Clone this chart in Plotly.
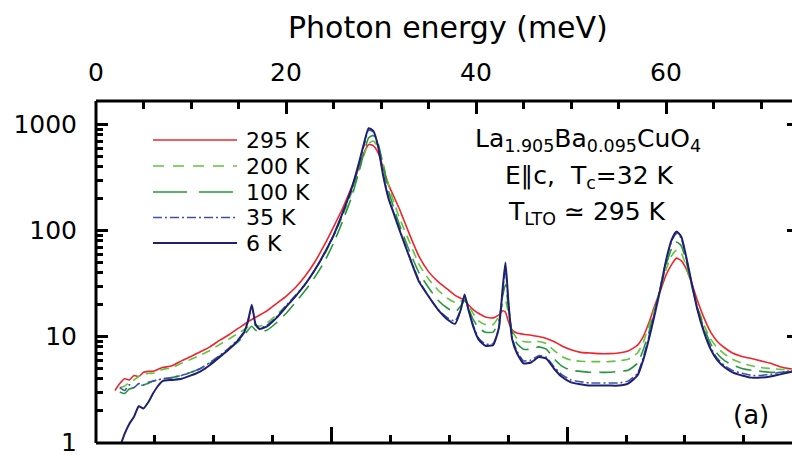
import plotly.graph_objects as go

# ---------------- data ----------------
energy_meV = [2.0, 2.5, 3.0, 3.5, 4.0, 4.5, 5.0, 5.5, 6.0, 6.5, 7.0, 8.0, 9.0, 10.0, 11.0, 12.0, 13.0, 14.0, 15.0, 15.6,
              16.0, 16.4, 16.8, 17.2, 18.0, 19.0, 20.0, 21.0, 22.0, 23.0, 24.0, 25.0, 26.0, 27.0, 27.6, 28.2, 28.7, 29.2, 29.7, 30.2,
              30.8, 31.4, 32.0, 33.0, 34.0, 35.0, 36.0, 37.0, 37.8, 38.4, 38.8, 39.2, 39.7, 40.3, 41.0, 41.8, 42.4, 42.8, 43.1, 43.4,
              43.8, 44.3, 45.0, 45.8, 46.6, 47.4, 48.2, 49.0, 50.0, 51.0, 52.0, 53.0, 54.0, 55.0, 56.0, 57.0, 57.6, 58.2, 58.8, 59.4,
              60.0, 60.6, 61.1, 61.6, 62.1, 62.7, 63.3, 64.0, 64.7, 65.4, 66.2, 67.0, 68.0, 69.0, 70.0, 71.0, 72.0, 73.4]

sigma_295K = [3.1, 3.6, 4.0, 3.9, 4.3, 4.2, 4.6, 4.7, 4.7, 4.9, 5.1, 5.3, 5.9, 6.5, 7.2, 8.0, 9.2, 10.4, 12.0, 13.0,
              13.8, 14.5, 15.2, 15.9, 17.5, 20.5, 24, 29, 37, 50, 72, 108, 165, 270, 380, 540, 650, 630, 540, 400,
              270, 205, 155, 92, 57, 41, 33, 28, 24.5, 23, 22, 20, 18, 16.5, 15.3, 15.0, 16, 17.5, 17, 14,
              11.5, 10.8, 10.5, 10.3, 10.0, 9.6, 9.0, 8.2, 7.5, 7.1, 7.0, 6.9, 6.9, 7.0, 7.3, 8.3, 10, 13.5, 19.5, 27,
              38, 48, 55, 52, 44, 32, 22, 15, 11, 9.0, 7.8, 7.0, 6.5, 6.2, 5.9, 5.6, 5.2, 4.9]

sigma_200K = [None, 3.3, 3.4, 3.7, 3.9, 4.2, 4.4, 4.5, 4.5, 4.7, 4.9, 5.1, 5.6, 6.1, 6.7, 7.4, 8.4, 9.5, 10.8, 11.6,
              12.3, 13.0, 12.8, 12.5, 13.5, 16, 19.5, 24, 31, 42, 58, 88, 140, 240, 345, 515, 665, 700, 610, 440,
              265, 180, 128, 78, 48, 35, 27.5, 23, 21, 21.5, 22.5, 20, 16.5, 14, 13, 13, 15.5, 20, 22, 16.5,
              11.5, 9.6, 9.0, 8.9, 9.0, 8.6, 7.4, 6.5, 6.0, 5.85, 5.8, 5.8, 5.8, 5.9, 6.1, 7.0, 8.8, 12.5, 18.5, 28,
              43, 58, 65, 61, 47, 30, 19.5, 12.8, 9.5, 7.8, 6.8, 6.1, 5.6, 5.3, 5.1, 5.0, 4.9, 4.9]

sigma_100K = [None, 3.0, 2.9, 3.2, 3.3, 3.4, 3.5, 3.6, 3.8, 3.9, 4.0, 4.1, 4.3, 4.6, 5.0, 5.6, 6.5, 7.6, 9.0, 10.3,
              11.5, 12.5, 11.5, 11.0, 11.5, 13.5, 16.5, 21, 27, 36, 50, 76, 125, 220, 340, 540, 750, 790, 660, 420,
              235, 158, 110, 64, 40, 29, 22, 18.5, 17, 19.5, 22, 18.5, 14.5, 12, 11, 11, 14, 24, 31, 19,
              11, 8.6, 7.6, 7.6, 8.0, 7.6, 6.2, 5.3, 4.8, 4.7, 4.6, 4.6, 4.6, 4.7, 4.8, 5.6, 7.5, 11, 17.5, 28,
              47, 68, 78, 72, 52, 31, 19, 12, 8.6, 6.9, 5.9, 5.4, 5.0, 4.8, 4.7, 4.6, 4.6, 4.7]

sigma_35K = [None, 3.3, 3.1, 3.5, 3.3, 3.6, 3.5, 3.7, 3.8, 3.9, 4.0, 4.1, 4.3, 4.6, 5.0, 5.7, 6.6, 7.8, 9.5, 11.2,
             14, 19, 13, 12, 12.8, 15.3, 19.5, 24.5, 31, 42, 60, 90, 148, 255, 390, 630, 890, 850, 620, 350,
             205, 142, 100, 57, 34, 24, 18, 15, 14, 18, 24, 18, 12.8, 9.6, 8.5, 8.6, 12, 26, 45, 21,
             9.8, 7.3, 5.9, 6.0, 6.6, 6.4, 5.2, 4.4, 3.9, 3.75, 3.65, 3.65, 3.65, 3.65, 3.8, 4.5, 6.3, 10, 17, 29,
             52, 80, 94, 85, 57, 32, 18.5, 11.3, 7.9, 6.2, 5.3, 4.8, 4.5, 4.3, 4.3, 4.4, 4.6, 4.8]

sigma_6K = [None, 0.9, 1.2, 1.5, 1.75, 2.2, 2.1, 2.4, 2.9, 3.4, 3.8, 3.9, 4.0, 4.3, 4.7, 5.4, 6.4, 7.6, 9.3, 11.0,
            14, 20, 13, 11.8, 12.5, 15, 19, 24, 31, 42, 60, 90, 150, 265, 410, 660, 925, 870, 620, 340,
            200, 140, 98, 56, 33, 24, 18, 14.5, 13.2, 18, 25, 18, 12.5, 9.3, 8.2, 8.3, 12, 28, 50, 22,
            9.5, 7.0, 5.6, 5.7, 6.4, 6.2, 5.0, 4.2, 3.7, 3.55, 3.45, 3.45, 3.45, 3.45, 3.6, 4.3, 6.0, 9.5, 16, 28,
            52, 82, 98, 88, 58, 32, 18, 11, 7.6, 6.0, 5.1, 4.6, 4.3, 4.1, 4.1, 4.2, 4.4, 4.7]

series_labels = ["295 K", "200 K", "100 K", "35 K", "6 K"]
series_values = [sigma_295K, sigma_200K, sigma_100K, sigma_35K, sigma_6K]

top_tick_vals = [0, 20, 40, 60]
top_minor_vals = [5, 10, 15, 25, 30, 35, 45, 50, 55, 65, 70]
bottom_major_vals = [200, 400]          # cm^-1
bottom_minor_vals = [50, 100, 150, 250, 300, 350, 450, 500, 550]
y_tick_vals = [1, 10, 100, 1000]
y_minor_vals = [m * 10 ** e for e in range(0, 4) for m in range(2, 10)]
MEV_TO_CM = 8.06554

# ---------------- styling ----------------
colors = ["#f2232b", "#62c43f", "#25983c", "#3f51b0", "#1f2170"]
dashes = ["solid", "9px,6px", "16px,8px", "9px,3px,2px,3px", "solid"]
legend_dashes = ["solid", "11px,9px", "34px,12px", "9px,3px,2px,3px", "solid"]
widths = [1.6, 1.6, 1.6, 1.6, 2.0]

FONT = "DejaVu Sans"
W, H = 792, 455
L, R, T, B = 96, 0, 101, 12
x_max = (W - L - R) / 9.5
y_lo = -0.004
y_hi = (H - B - T) / 106.0 + y_lo

fig = go.Figure()
for lab, vals, c, d, w in zip(series_labels, series_values, colors, dashes, widths):
    pts = [(e, v) for e, v in zip(energy_meV, vals) if v is not None]
    fig.add_trace(go.Scatter(x=[p[0] for p in pts], y=[p[1] for p in pts], mode="lines", name=lab,
                             line=dict(color=c, dash=d, width=w, shape="spline", smoothing=0.5),
                             showlegend=False, xaxis="x", yaxis="y"))

# transparent helper points so that each helper axis has a subplot
helper_pairs = [("x2", "y"), ("x3", "y"), ("x4", "y"), ("x5", "y"), ("x", "y2"), ("x", "y3"), ("x", "y4")]
for xa, ya in helper_pairs:
    fig.add_trace(go.Scatter(x=[10], y=[10], xaxis=xa, yaxis=ya, showlegend=False, hoverinfo="skip",
                             mode="markers", marker=dict(size=1, color="rgba(0,0,0,0)")))

plain = dict(showgrid=False, zeroline=False, automargin=False, showline=False)
marks = dict(ticks="inside", tickcolor="black", tickwidth=2.5, showticklabels=False)
ghost = dict(ticks="outside", tickcolor="rgba(0,0,0,0)", tickwidth=1)

fig.update_layout(
    template="none",
    width=W, height=H, margin=dict(l=L, r=R, t=T, b=B),
    paper_bgcolor="white", plot_bgcolor="white",
    font=dict(family=FONT, color="black"),
    xaxis=dict(range=[0, x_max], side="top", anchor="y", tickmode="array", tickvals=top_tick_vals,
               ticklen=9, tickfont=dict(size=25, family=FONT), ticklabeloverflow="allow", **ghost, **plain),
    xaxis3=dict(range=[0, x_max], side="top", anchor="y", overlaying="x", tickmode="array",
                tickvals=top_tick_vals, ticklen=13, **marks, **plain),
    xaxis5=dict(range=[0, x_max], side="top", anchor="y", overlaying="x", tickmode="array",
                tickvals=top_minor_vals, ticklen=8, **marks, **plain),
    xaxis2=dict(range=[0, x_max * MEV_TO_CM], side="bottom", anchor="y", overlaying="x", tickmode="array",
                tickvals=bottom_major_vals, ticklen=16, **marks, **plain),
    xaxis4=dict(range=[0, x_max * MEV_TO_CM], side="bottom", anchor="y", overlaying="x", tickmode="array",
                tickvals=bottom_minor_vals, ticklen=8, **marks, **plain),
    yaxis=dict(type="log", range=[y_lo, y_hi], anchor="x", side="left", tickmode="array", tickvals=y_tick_vals,
               ticktext=[str(v) for v in y_tick_vals], ticklen=13,
               tickfont=dict(size=25, family=FONT), ticklabeloverflow="allow", **ghost, **plain),
    yaxis4=dict(type="log", range=[y_lo, y_hi], anchor="x", side="left", overlaying="y", tickmode="array",
                tickvals=y_tick_vals, ticklen=12, **marks, **plain),
    yaxis2=dict(type="log", range=[y_lo, y_hi], anchor="x", side="left", overlaying="y", tickmode="array",
                tickvals=y_minor_vals, ticklen=7, **marks, **plain),
    yaxis3=dict(type="log", range=[y_lo, y_hi], anchor="x", side="right", overlaying="y", tickmode="array",
                tickvals=y_tick_vals, ticklen=5, **marks, **plain),
)

# frame lines (top, bottom, left) of the plotting area
for x0, y0, x1, y1 in [(0, 1, 1, 1), (0, 0, 1, 0), (0, 0, 0, 1)]:
    fig.add_shape(type="line", xref="paper", yref="paper", x0=x0, y0=y0, x1=x1, y1=y1,
                  line=dict(color="black", width=3), layer="above")

def px_x(px):
    return (px - L) / (W - L - R)

def px_y(py):
    return (H - B - py) / (H - B - T)

# manual legend
row_y = [140, 166, 192, 217.5, 243]
for lab, c, d, w, ry in zip(series_labels, colors, legend_dashes, widths, row_y):
    fig.add_shape(type="line", xref="paper", yref="paper", x0=px_x(153), x1=px_x(237), y0=px_y(ry), y1=px_y(ry),
                  line=dict(color=c, dash=d, width=w))
    fig.add_annotation(xref="paper", yref="paper", x=px_x(244), y=px_y(ry), text=lab, showarrow=False,
                       xanchor="left", yanchor="middle", font=dict(size=22, family=FONT))

fig.add_annotation(xref="paper", yref="paper", x=px_x(448), y=px_y(27), text="Photon energy (meV)",
                   showarrow=False, xanchor="center", yanchor="middle", font=dict(size=30, family=FONT))
fig.add_annotation(xref="paper", yref="paper", x=px_x(588), y=px_y(140),
                   text="La<sub>1.905</sub>Ba<sub>0.095</sub>CuO<sub>4</sub>",
                   showarrow=False, xanchor="center", yanchor="middle", font=dict(size=25, family=FONT))
fig.add_annotation(xref="paper", yref="paper", x=px_x(589), y=px_y(177),
                   text="E\u2225c,  T<sub>c</sub>=32 K",
                   showarrow=False, xanchor="center", yanchor="middle", font=dict(size=25, family=FONT))
fig.add_annotation(xref="paper", yref="paper", x=px_x(587), y=px_y(213),
                   text="T<sub>LTO</sub> \u2243 295 K",
                   showarrow=False, xanchor="center", yanchor="middle", font=dict(size=25, family=FONT))
fig.add_annotation(xref="paper", yref="paper", x=px_x(751), y=px_y(415), text="(a)",
                   showarrow=False, xanchor="center", yanchor="middle", font=dict(size=26, family=FONT))

fig.write_html("out.html")
